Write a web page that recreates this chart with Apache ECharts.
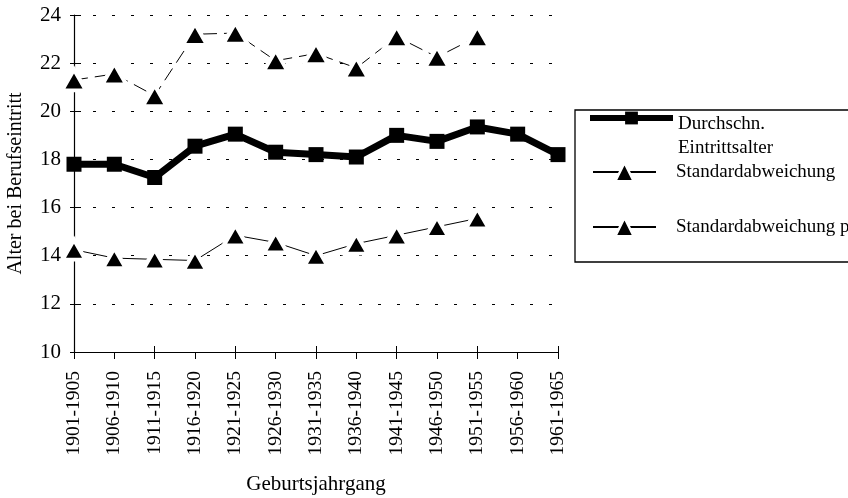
<!DOCTYPE html>
<html><head><meta charset="utf-8">
<script src="https://cdn.jsdelivr.net/npm/echarts@6/dist/echarts.min.js"></script>
<style>html,body{margin:0;padding:0;background:#fff}#c{width:848px;height:498px}</style>
</head><body><div id="c"></div>
<script>
const categories = ['1901-1905','1906-1910','1911-1915','1916-1920','1921-1925','1926-1930','1931-1935','1936-1940','1941-1945','1946-1950','1951-1955','1956-1960','1961-1965'];
const meanAge = [17.8, 17.8, 17.25, 18.55, 19.05, 18.3, 18.2, 18.1, 19.0, 18.75, 19.35, 19.05, 18.2];
const sdMinus = [14.25, 13.9, 13.85, 13.8, 14.85, 14.55, 14.0, 14.5, 14.85, 15.2, 15.55, null, null];
const sdPlus = [21.3, 21.55, 20.65, 23.2, 23.25, 22.1, 22.4, 21.8, 23.1, 22.25, 23.1, null, null];
const names = ['Durchschn. Eintrittsalter', 'Standardabweichung', 'Standardabweichung plus'];
const yTicks = {min: 10, max: 24, interval: 2};

const font = 'Liberation Serif';
const black = '#000';
const chart = echarts.init(document.getElementById('c'));
chart.setOption({
  animation: false,
  backgroundColor: '#fff',
  grid: {left: 74, right: 290, top: 15, bottom: 146, containLabel: false, outerBoundsMode: 'none'},
  xAxis: [{
    type: 'category', data: categories, boundaryGap: false,
    name: 'Geburtsjahrgang', nameLocation: 'middle', nameGap: 122,
    nameTextStyle: {fontFamily: font, fontSize: 21, color: black},
    axisLine: {lineStyle: {color: black, width: 1}},
    axisTick: {show: true, length: 7, lineStyle: {color: black}},
    axisLabel: {rotate: 90, fontFamily: font, fontSize: 19.5, color: black, margin: 19, interval: 0},
    splitLine: {show: false}
  }, {
    type: 'category', data: categories, boundaryGap: false, position: 'bottom',
    axisLine: {show: false},
    axisTick: {show: true, inside: true, length: 6, lineStyle: {color: black}},
    axisLabel: {show: false}, splitLine: {show: false}
  }],
  yAxis: [{
    type: 'value', min: yTicks.min, max: yTicks.max, interval: yTicks.interval,
    name: 'Alter bei Berufseintritt', nameLocation: 'middle', nameGap: 48,
    nameTextStyle: {fontFamily: font, fontSize: 20, color: black},
    axisLine: {show: true, lineStyle: {color: black, width: 1.2}},
    axisTick: {show: true, length: 4, lineStyle: {color: black}},
    axisLabel: {fontFamily: font, fontSize: 21, color: black, margin: 13},
    splitLine: {show: true, lineStyle: {color: black, type: [3, 16], width: 1}}
  }, {
    type: 'value', min: yTicks.min, max: yTicks.max, interval: yTicks.interval, position: 'left',
    axisLine: {show: false},
    axisTick: {show: true, inside: true, length: 7, lineStyle: {color: black}},
    axisLabel: {show: false}, splitLine: {show: false}
  }],
  legend: [
    {data: [names[0]], left: 587, top: 89, orient: 'vertical', padding: 0, itemWidth: 83, itemHeight: 16, selectedMode: false,
     lineStyle: {width: 6},
     formatter: () => '{p| }\n{a|Durchschn.}\n{a|Eintrittsalter}',
     textStyle: {fontFamily: font, fontSize: 19, color: black,
       rich: {p: {fontSize: 10, lineHeight: 36}, a: {fontFamily: font, fontSize: 19, color: black, lineHeight: 24}}}},
    {data: [names[1]], left: 592, top: 160, orient: 'vertical', padding: 0, itemWidth: 63, itemHeight: 23, selectedMode: false,
     itemStyle: {borderWidth: 2.5, borderColor: '#fff'},
     formatter: '{a|{name}}',
     textStyle: {fontFamily: font, fontSize: 19, color: black, lineHeight: 24,
       rich: {a: {fontFamily: font, fontSize: 19, color: black, lineHeight: 24, padding: [0, 0, 0, 15]}}}},
    {data: [names[2]], left: 592, top: 215, orient: 'vertical', padding: 0, itemWidth: 63, itemHeight: 23, selectedMode: false,
     itemStyle: {borderWidth: 2.5, borderColor: '#fff'},
     lineStyle: {type: 'solid'},
     formatter: '{a|{name}}',
     textStyle: {fontFamily: font, fontSize: 19, color: black, lineHeight: 24,
       rich: {a: {fontFamily: font, fontSize: 19, color: black, lineHeight: 24, padding: [0, 0, 0, 15]}}}}
  ],
  graphic: [{type: 'rect', shape: {x: 575, y: 110, width: 300, height: 152}, style: {fill: 'none', stroke: black, lineWidth: 1.3}, z: 100}],
  series: [
    {name: names[0], type: 'line', data: meanAge, symbol: 'rect', symbolSize: 15,
     lineStyle: {color: black, width: 7}, itemStyle: {color: black}, z: 3},
    {name: names[1], type: 'line', data: sdMinus, symbol: 'triangle', symbolSize: [23, 20],
     lineStyle: {color: black, width: 1}, itemStyle: {color: black, borderColor: '#fff', borderWidth: 4}, z: 2},
    {name: names[2], type: 'line', data: sdPlus, symbol: 'triangle', symbolSize: [24, 21],
     lineStyle: {color: black, width: 1, type: [14, 7]}, itemStyle: {color: black, borderColor: '#fff', borderWidth: 4}, z: 2}
  ]
});
</script></body></html>
